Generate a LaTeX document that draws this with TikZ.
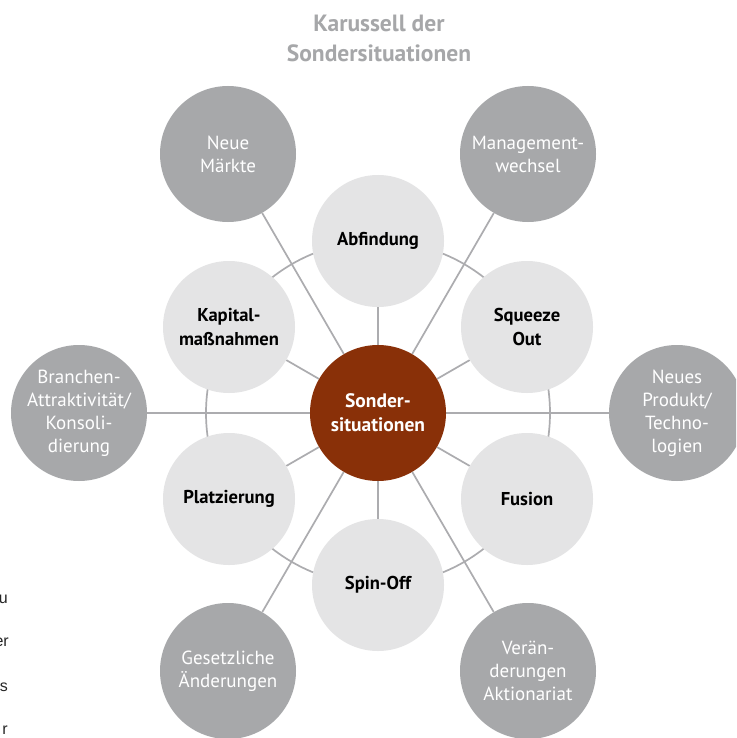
\documentclass[tikz,border=0pt]{standalone}
\usepackage{fontspec}
\setmainfont{PT Sans}
\newfontfamily\marginfont{Liberation Sans}
\usetikzlibrary{backgrounds}
\definecolor{outergray}{RGB}{167,168,170}
\definecolor{innergray}{RGB}{228,228,229}
\definecolor{rust}{RGB}{137,48,8}
\definecolor{linegray}{RGB}{172,172,175}
\definecolor{titlegray}{RGB}{166,167,169}
\tikzset{
  outercirc/.style={circle, fill=outergray, minimum size=136pt, inner sep=0pt, align=center,
    text=white, font=\fontsize{19}{23}\selectfont},
  innercirc/.style={circle, fill=innergray, minimum size=132pt, inner sep=0pt, align=center,
    text=black, font=\fontsize{18.6}{24}\selectfont\bfseries},
  centercirc/.style={circle, fill=rust, minimum size=136pt, inner sep=0pt, align=center,
    text=white, font=\fontsize{19.5}{24}\selectfont\bfseries},
  spoke/.style={draw=linegray, line width=1.7pt},
  titletext/.style={text=titlegray, font=\fontsize{23.5}{30}\selectfont\bfseries, anchor=base},
  margintext/.style={text=black!85, font=\marginfont\fontsize{16}{20}\selectfont, anchor=base east, inner sep=0pt}
}
\begin{document}
\begin{tikzpicture}[x=1pt,y=-1pt]
\useasboundingbox (0,0) rectangle (736,738);
\clip (0,0) rectangle (736,738);

\node[titletext] (t1) at (379,32) {Karussell der};
\node[titletext] (t2) at (379,62) {Sondersituationen};

\node[centercirc] (c) at (378,413) {Sonder-\\situationen};

\node[innercirc] (ab) at (378,241) {Abfindung};
\node[innercirc] (sq) at (527,327) {Squeeze\\Out};
\node[innercirc] (fu) at (527,499) {Fusion};
\node[innercirc] (sp) at (378,585) {Spin-Off};
\node[innercirc] (pl) at (229,499) {Platzierung};
\node[innercirc] (ka) at (229,327) {Kapital-\\maßnahmen};

\node[outercirc] (nm) at (228,154) {Neue\\Märkte};
\node[outercirc] (mw) at (528,154) {Management-\\wechsel};
\node[outercirc] (np) at (677,413) {Neues\\Produkt/\\Techno-\\logien};
\node[outercirc] (va) at (528,671) {Verän-\\derungen\\Aktionariat};
\node[outercirc] (ge) at (228,671) {Gesetzliche\\Änderungen};
\node[outercirc] (br) at (79,413) {Branchen-\\Attraktivität/\\Konsoli-\\dierung};

\begin{pgfonlayer}{background}
  \fill[white] (0,0) rectangle (736,738);
  \draw[spoke] (c.center) circle[radius=172pt];
  \foreach \n in {ab,sq,fu,sp,pl,ka,nm,mw,np,va,ge,br}
    \draw[spoke] (c) -- (\n);
\end{pgfonlayer}

\node[margintext] (m1) at (8,603) {u};
\node[margintext] (m2) at (9,646) {er};
\node[margintext] (m3) at (8,691) {s};
\node[margintext] (m4) at (8,734) {r};
\end{tikzpicture}
\end{document}
